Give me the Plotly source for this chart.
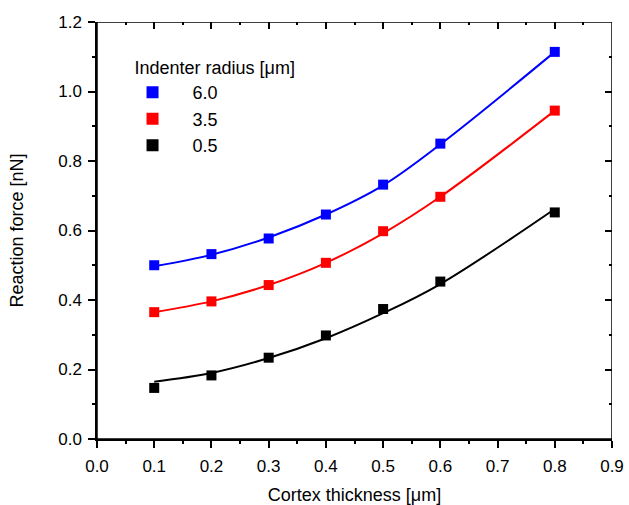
import plotly.graph_objects as go

thickness = [0.1, 0.2, 0.3, 0.4, 0.5, 0.6, 0.8]
force_6_0 = [0.500, 0.532, 0.577, 0.646, 0.732, 0.850, 1.114]
force_3_5 = [0.365, 0.396, 0.443, 0.507, 0.598, 0.697, 0.945]
force_0_5 = [0.147, 0.183, 0.234, 0.298, 0.374, 0.453, 0.652]

fit_6_0 = [0.497, 0.530, 0.580, 0.646, 0.730, 0.848, 1.114]
fit_3_5 = [0.365, 0.396, 0.443, 0.507, 0.592, 0.697, 0.945]
fit_0_5 = [0.165, 0.190, 0.233, 0.290, 0.362, 0.446, 0.662]

labels = ["6.0", "3.5", "0.5"]
colors = ["#0000ff", "#ff0000", "#000000"]

# plot-area frame, in normalised (0..1) units of a hidden overlay axis pair
frame_x = [0, 1, 1, 0, 0]
frame_y = [0, 0, 1, 1, 0]

fig = go.Figure()
for lab, col, pts, fit in zip(labels, colors, [force_6_0, force_3_5, force_0_5], [fit_6_0, fit_3_5, fit_0_5]):
    fig.add_trace(go.Scatter(x=thickness, y=fit, mode="lines", line=dict(color=col, width=2, shape="spline", smoothing=1.0),
                             showlegend=False, hoverinfo="skip"))
for lab, col, pts in zip(labels, colors, [force_6_0, force_3_5, force_0_5]):
    fig.add_trace(go.Scatter(x=thickness, y=pts, mode="markers", name="\u00a0\u00a0\u00a0\u00a0" + lab,
                             marker=dict(symbol="square", size=10, color=col)))

# invisible trace so the mirror (top/right) tick axes are drawn
fig.add_trace(go.Scatter(x=[0], y=[0], xaxis="x2", yaxis="y2", mode="markers",
                         marker=dict(opacity=0), showlegend=False, hoverinfo="skip"))
# frame
fig.add_trace(go.Scatter(x=frame_x, y=frame_y, xaxis="x3", yaxis="y3", mode="lines",
                         line=dict(color="black", width=1.5), cliponaxis=False,
                         showlegend=False, hoverinfo="skip"))

font_family = "Liberation Sans, Arial, sans-serif"
tickstyle = dict(tickcolor="black", tickwidth=1.5)

fig.update_layout(
    width=629, height=505,
    margin=dict(l=97, r=17, t=22, b=66),
    paper_bgcolor="white", plot_bgcolor="rgba(0,0,0,0)",
    font=dict(family=font_family, color="black", size=17),
    xaxis=dict(range=[0, 0.9], dtick=0.1, tickformat=".1f", ticks="outside", ticklen=7,
               showline=True, linecolor="#000000", linewidth=1.5, showgrid=False, zeroline=False,
               tickfont=dict(size=17), ticklabelstandoff=4, automargin=False, **tickstyle,
               minor=dict(ticks="outside", ticklen=3, dtick=0.05, **tickstyle),
               title=dict(text="Cortex thickness [μm]", font=dict(size=18), standoff=18)),
    yaxis=dict(range=[0, 1.2], dtick=0.2, tickformat=".1f", ticks="outside", ticklen=7,
               showline=True, linecolor="#000000", linewidth=1.5, showgrid=False, zeroline=False,
               tickfont=dict(size=17), ticklabelstandoff=3, automargin=False, **tickstyle,
               minor=dict(ticks="outside", ticklen=3, dtick=0.1, **tickstyle),
               title=dict(text="Reaction force [nN]", font=dict(size=18), standoff=30)),
    xaxis2=dict(overlaying="x", anchor="y", side="top", range=[0, 0.9], dtick=0.1, ticks="inside", ticklen=7,
                showticklabels=False, showline=False, showgrid=False, zeroline=False, automargin=False,
                **tickstyle, minor=dict(ticks="inside", ticklen=3, dtick=0.05, **tickstyle)),
    yaxis2=dict(overlaying="y", anchor="x", side="right", range=[0, 1.2], dtick=0.2, ticks="inside", ticklen=7,
                showticklabels=False, showline=False, showgrid=False, zeroline=False, automargin=False,
                **tickstyle, minor=dict(ticks="inside", ticklen=3, dtick=0.1, **tickstyle)),
    xaxis3=dict(overlaying="x", anchor="y3", range=[0, 1], visible=False),
    yaxis3=dict(overlaying="y", anchor="x3", range=[0, 1], visible=False),
    legend=dict(x=0.069, y=0.931, xanchor="left", yanchor="top", bgcolor="rgba(0,0,0,0)",
                title=dict(text="Indenter radius [μm]", font=dict(size=18)),
                font=dict(size=18), itemsizing="constant", tracegroupgap=0),
)

fig.write_html("out.html", config={"displayModeBar": False},
               post_script="document.body.style.margin='0';document.body.style.overflow='hidden';")
